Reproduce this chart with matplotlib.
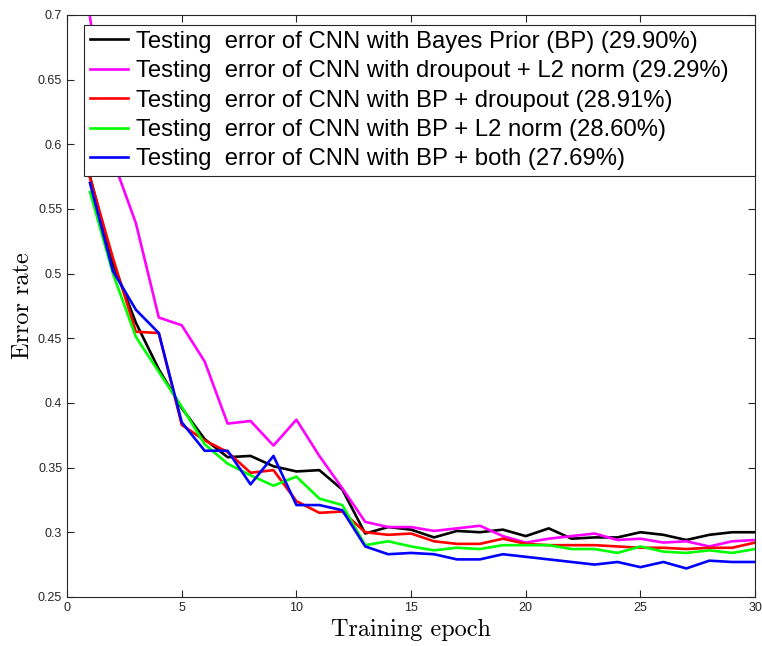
import numpy as np
import matplotlib.pyplot as plt

epochs = np.arange(1, 31)

err_bp = [0.575, 0.508, 0.462, 0.426, 0.396, 0.372, 0.358, 0.359, 0.351, 0.347,
          0.348, 0.333, 0.299, 0.304, 0.302, 0.296, 0.301, 0.300, 0.302, 0.297,
          0.303, 0.295, 0.296, 0.296, 0.300, 0.298, 0.294, 0.298, 0.300, 0.300]
err_drop_l2 = [0.698, 0.588, 0.539, 0.466, 0.460, 0.432, 0.384, 0.386, 0.367, 0.387,
               0.359, 0.334, 0.308, 0.304, 0.304, 0.301, 0.303, 0.305, 0.297, 0.292,
               0.295, 0.297, 0.299, 0.294, 0.295, 0.292, 0.293, 0.289, 0.293, 0.294]
err_bp_drop = [0.574, 0.512, 0.455, 0.454, 0.383, 0.371, 0.362, 0.346, 0.348, 0.324,
               0.315, 0.316, 0.300, 0.298, 0.299, 0.293, 0.291, 0.291, 0.295, 0.291,
               0.290, 0.290, 0.290, 0.289, 0.288, 0.288, 0.287, 0.288, 0.288, 0.292]
err_bp_l2 = [0.563, 0.500, 0.451, 0.424, 0.397, 0.368, 0.353, 0.344, 0.336, 0.343,
             0.326, 0.321, 0.290, 0.293, 0.289, 0.286, 0.288, 0.287, 0.290, 0.290,
             0.290, 0.287, 0.287, 0.284, 0.289, 0.285, 0.284, 0.286, 0.284, 0.287]
err_bp_both = [0.570, 0.502, 0.472, 0.454, 0.385, 0.363, 0.363, 0.337, 0.359, 0.321,
               0.321, 0.317, 0.289, 0.283, 0.284, 0.283, 0.279, 0.279, 0.283, 0.281,
               0.279, 0.277, 0.275, 0.277, 0.273, 0.277, 0.272, 0.278, 0.277, 0.277]

labels = [
    "Testing  error of CNN with Bayes Prior (BP) (29.90%)",
    "Testing  error of CNN with droupout + L2 norm (29.29%)",
    "Testing  error of CNN with BP + droupout (28.91%)",
    "Testing  error of CNN with BP + L2 norm (28.60%)",
    "Testing  error of CNN with BP + both (27.69%)",
]
colors = ["#000000", "#ff00ff", "#ff0000", "#00ff00", "#0000ff"]
series = [err_bp, err_drop_l2, err_bp_drop, err_bp_l2, err_bp_both]

x_ticks = [0, 5, 10, 15, 20, 25, 30]
y_ticks = [0.25, 0.3, 0.35, 0.4, 0.45, 0.5, 0.55, 0.6, 0.65, 0.7]
y_tick_labels = ["0.25", "0.3", "0.35", "0.4", "0.45", "0.5", "0.55", "0.6", "0.65", "0.7"]

plt.rcParams["font.family"] = ["Liberation Sans", "DejaVu Sans"]

fig = plt.figure(figsize=(7.62, 6.46), dpi=100)
ax = fig.add_axes([0.088, 0.076, 0.903, 0.901])

for y, c, lab in zip(series, colors, labels):
    ax.plot(epochs, y, color=c, linewidth=1.9, label=lab)

ax.set_xlim(0, 30)
ax.set_ylim(0.25, 0.7)
ax.set_xticks(x_ticks)
ax.set_yticks(y_ticks)
ax.set_yticklabels(y_tick_labels)
ax.tick_params(direction="in", top=True, right=True, labelsize=9,
               colors="#262626", length=5, width=0.8)
for sp in ax.spines.values():
    sp.set_color("#262626")
    sp.set_linewidth(0.8)

ax.set_xlabel("Training epoch", fontfamily="cmr10", fontsize=17.5, labelpad=4)
ax.set_ylabel("Error rate", fontfamily="cmr10", fontsize=17.5, labelpad=3)

# legend box spans from just right of the y axis to the right edge
leg = ax.legend(loc="upper left", bbox_to_anchor=(0.025, 0.723, 0.975, 0.26),
                mode="expand", fontsize=17.2,
                fancybox=False, edgecolor="#262626", framealpha=1,
                handlelength=1.6, handletextpad=0.3, labelspacing=0.31,
                borderaxespad=0, borderpad=0.25)
leg.get_frame().set_linewidth(0.8)

fig.savefig("out.png", dpi=100)
